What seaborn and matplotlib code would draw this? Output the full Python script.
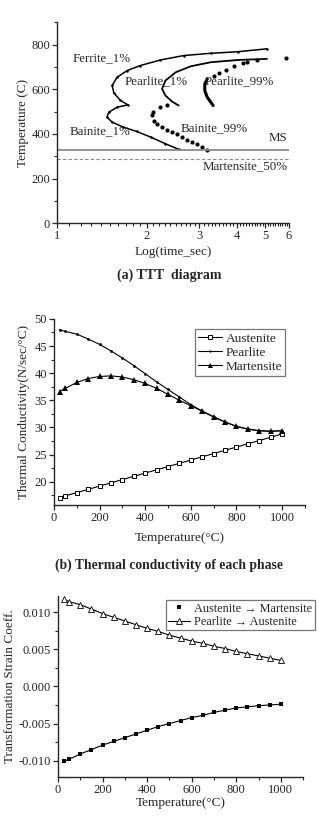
import seaborn as sns
import matplotlib.pyplot as plt
import matplotlib.ticker as mtick
from matplotlib.lines import Line2D

# ---- (a) TTT diagram, curves traced as (time, temperature) ----
ferrite_t = [5.06, 4.03, 3.28, 2.66, 2.22, 1.90, 1.72, 1.59, 1.53, 1.55, 1.63, 1.73,
             1.59, 1.49, 1.47, 1.53, 1.67, 1.85, 2.06, 2.31, 2.56]
ferrite_T = [781, 768, 761, 751, 731, 706, 684, 654, 617, 584, 550, 530,
             520, 497, 475, 453, 430, 411, 386, 356, 331]

pearlite1_t = [5.06, 4.03, 3.28, 2.81, 2.50, 2.31, 2.25, 2.31, 2.43, 2.56]
pearlite1_T = [736, 731, 721, 703, 676, 639, 602, 572, 545, 527]

pearlite99_dot_t = [5.86, 4.70, 4.35, 4.19, 3.91, 3.68, 3.49, 3.36]
pearlite99_dot_T = [739, 730, 724, 716, 703, 687, 672, 661]
pearlite99_t = [3.19, 3.13, 3.13, 3.19, 3.28, 3.34]
pearlite99_T = [646, 624, 594, 564, 542, 527]

bainite99_t = [2.34, 2.22, 2.10, 2.08, 2.11, 2.17, 2.25, 2.34, 2.43, 2.53,
               2.63, 2.73, 2.84, 2.95, 3.07, 3.19]
bainite99_T = [530, 520, 497, 483, 460, 445, 430, 419, 408, 398,
               386, 375, 363, 353, 341, 329]

ms_temp = 330
mart50_temp = 290

# ---- (b) thermal conductivity ----
temps = [25, 50, 100, 150, 200, 250, 300, 350, 400, 450, 500,
         550, 600, 650, 700, 750, 800, 850, 900, 950, 1000]
k_austenite = [17.1, 17.4, 18.0, 18.6, 19.2, 19.8, 20.4, 21.0, 21.6, 22.2, 22.8,
               23.4, 24.0, 24.6, 25.2, 25.8, 26.4, 27.0, 27.6, 28.2, 28.8]
k_pearlite = [48.0, 47.7, 47.2, 46.3, 45.3, 44.1, 42.8, 41.4, 39.9, 38.4, 37.0,
              35.6, 34.2, 33.0, 31.9, 31.0, 30.2, 29.7, 29.4, 29.3, 29.4]
k_martensite = [36.6, 37.2, 38.3, 39.0, 39.4, 39.5, 39.3, 38.8, 38.1, 37.2, 36.1,
                35.0, 34.0, 33.0, 32.0, 31.0, 30.2, 29.7, 29.4, 29.3, 29.4]

# ---- (c) transformation strain coefficient ----
strain_a2m = [-0.0101, -0.0098, -0.0091, -0.0085, -0.0079, -0.0074, -0.0069,
              -0.0064, -0.0059, -0.0054, -0.0050, -0.0046, -0.0042, -0.0039,
              -0.0035, -0.0032, -0.0029, -0.00275, -0.0026, -0.0025, -0.0024]
strain_p2a = [0.0117, 0.0114, 0.0110, 0.0104, 0.0098, 0.0093, 0.0088, 0.0083,
              0.0078, 0.0074, 0.0069, 0.0065, 0.0061, 0.0058, 0.0054, 0.0051,
              0.0047, 0.0044, 0.0041, 0.0038, 0.0035]

sns.set_style("ticks")
plt.rcParams['font.family'] = ['Liberation Serif', 'DejaVu Serif']
plt.rcParams['xtick.labelsize'] = 9
plt.rcParams['ytick.labelsize'] = 9
plt.rcParams['axes.linewidth'] = 1.0

fig = plt.figure(figsize=(3.19, 8.24), dpi=100)


def style_axes(ax):
    sns.despine(ax=ax)
    ax.tick_params(which='major', direction='out', length=3.5, width=0.9, pad=1.5)
    ax.tick_params(which='minor', direction='out', length=2, width=0.8)


# ===== (a) =====
ax1 = fig.add_axes([0.179, 0.729, 0.727, 0.244])
sns.lineplot(x=ferrite_t, y=ferrite_T, sort=False, estimator=None, color='black',
             linewidth=1.1, marker='o', markersize=1.8, markeredgewidth=0, ax=ax1)
sns.lineplot(x=pearlite1_t, y=pearlite1_T, sort=False, estimator=None, color='black',
             linewidth=1.3, ax=ax1)
sns.scatterplot(x=pearlite99_dot_t, y=pearlite99_dot_T, color='black', s=9,
                linewidth=0, ax=ax1)
sns.lineplot(x=pearlite99_t, y=pearlite99_T, sort=False, estimator=None, color='black',
             linewidth=2.2, ax=ax1)
sns.scatterplot(x=bainite99_t, y=bainite99_T, color='black', s=9,
                linewidth=0, ax=ax1)
ax1.axhline(ms_temp, color='#8a8a8a', linewidth=1.3)
ax1.axhline(mart50_temp, color='#8a8a8a', linewidth=0.8, linestyle=(0, (3, 2)))

ax1.set_xscale('log')
ax1.set_xlim(1, 6)
ax1.set_ylim(0, 900)
ax1.xaxis.set_major_locator(mtick.FixedLocator([1, 2, 3, 4, 5, 6]))
ax1.xaxis.set_major_formatter(mtick.FixedFormatter(['1', '2', '3', '4', '5', '6']))
minor_x = [v / 10 for v in range(11, 60) if v % 10 != 0]
ax1.xaxis.set_minor_locator(mtick.FixedLocator(minor_x))
ax1.xaxis.set_minor_formatter(mtick.NullFormatter())
ax1.yaxis.set_major_locator(mtick.MultipleLocator(200))
ax1.yaxis.set_minor_locator(mtick.MultipleLocator(100))
style_axes(ax1)
ax1.set_xlabel('Log(time_sec)', fontsize=9.5, labelpad=3)
ax1.set_ylabel('Temperature (C)', fontsize=9.5, labelpad=2)

fs = 9.3
ax1.text(1.13, 737, 'Ferrite_1%', fontsize=fs, va='center', ha='left')
ax1.text(1.68, 634, 'Pearlite_1%', fontsize=fs, va='center', ha='left')
ax1.text(3.13, 634, 'Pearlite_99%', fontsize=fs, va='center', ha='left')
ax1.text(1.10, 411, 'Bainite_1%', fontsize=fs, va='center', ha='left')
ax1.text(2.60, 424, 'Bainite_99%', fontsize=fs, va='center', ha='left')
ax1.text(5.92, 384, 'MS', fontsize=fs, va='center', ha='right')
ax1.text(5.93, 255, 'Martensite_50%', fontsize=fs, va='center', ha='right')

fig.text(0.53, 1 - 275 / 824, '(a) TTT  diagram', fontsize=10, fontweight='bold',
         ha='center', va='center')

# ===== (b) =====
ax2 = fig.add_axes([0.169, 0.387, 0.787, 0.226])
sns.lineplot(x=temps, y=k_austenite, color='black', linewidth=0.8, marker='s',
             markersize=3.2, markerfacecolor='white', markeredgecolor='black',
             markeredgewidth=0.7, label='Austenite', ax=ax2)
sns.lineplot(x=temps, y=k_pearlite, color='black', linewidth=0.8, marker='o',
             markersize=2.0, markeredgewidth=0, label='Pearlite', ax=ax2)
sns.lineplot(x=temps, y=k_martensite, color='black', linewidth=0.8, marker='^',
             markersize=4.5, markeredgewidth=0, label='Martensite', ax=ax2)
ax2.set_xlim(0, 1100)
ax2.set_ylim(15.7, 50)
ax2.xaxis.set_major_locator(mtick.MultipleLocator(200))
ax2.xaxis.set_minor_locator(mtick.MultipleLocator(100))
ax2.yaxis.set_major_locator(mtick.FixedLocator([20, 25, 30, 35, 40, 45, 50]))
ax2.yaxis.set_minor_locator(mtick.FixedLocator([17.5, 22.5, 27.5, 32.5, 37.5, 42.5, 47.5]))
style_axes(ax2)
ax2.set_xlabel('Temperature(°C)', fontsize=9.5, labelpad=6)
ax2.set_ylabel('Thermal Conductivity(N/sec/°C)', fontsize=9.5, labelpad=3)
leg = ax2.legend(loc='upper left', bbox_to_anchor=(0.56, 0.945), fontsize=9.5,
                 frameon=True, fancybox=False, edgecolor='#555555', handlelength=1.8,
                 handletextpad=0.3, borderpad=0.25, labelspacing=0.15, borderaxespad=0,
                 markerscale=0.8)
leg.get_frame().set_linewidth(0.9)

fig.text(0.53, 1 - 565 / 824, '(b) Thermal conductivity of each phase', fontsize=9.8,
         fontweight='bold', ha='center', va='center')

# ===== (c) =====
ax3 = fig.add_axes([0.182, 0.057, 0.768, 0.220])
sns.lineplot(x=temps, y=strain_a2m, color='black', linewidth=0.8, marker='s',
             markersize=3.2, markeredgewidth=0, ax=ax3)
sns.lineplot(x=temps, y=strain_p2a, color='black', linewidth=0.8, marker='^',
             markersize=4.5, markerfacecolor='white', markeredgecolor='black',
             markeredgewidth=0.6, ax=ax3)
ax3.set_xlim(0, 1100)
ax3.set_ylim(-0.0122, 0.0122)
ax3.xaxis.set_major_locator(mtick.MultipleLocator(200))
ax3.xaxis.set_minor_locator(mtick.MultipleLocator(100))
ax3.yaxis.set_major_locator(mtick.FixedLocator([-0.010, -0.005, 0.0, 0.005, 0.010]))
ax3.yaxis.set_major_formatter(mtick.FormatStrFormatter('%.3f'))
ax3.yaxis.set_minor_locator(mtick.FixedLocator([-0.0075, -0.0025, 0.0025, 0.0075]))
style_axes(ax3)
ax3.set_xlabel('Temperature(°C)', fontsize=9.5, labelpad=1)
ax3.set_ylabel('Transformation Strain Coeff.', fontsize=9.5, labelpad=2)

handles = [
    Line2D([], [], color='black', linestyle='none', marker='s', markersize=3.0,
           markeredgewidth=0),
    Line2D([], [], color='black', linewidth=0.8, marker='^', markersize=4.0,
           markerfacecolor='white', markeredgecolor='black', markeredgewidth=0.6),
]
leg3 = ax3.legend(handles, ['Austenite → Martensite', 'Pearlite → Austenite'],
                  loc='upper left', bbox_to_anchor=(0.44, 0.975), fontsize=8.8,
                  frameon=True, fancybox=False, edgecolor='#555555', handlelength=1.8,
                  handletextpad=0.3, borderpad=0.2, labelspacing=0.1, borderaxespad=0)
leg3.get_frame().set_linewidth(0.9)

fig.savefig('out.png', dpi=100)
